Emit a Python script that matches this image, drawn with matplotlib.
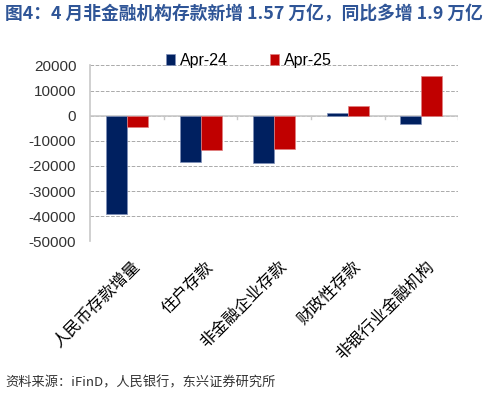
import numpy as np
import matplotlib
matplotlib.use("Agg")
import matplotlib.pyplot as plt

plt.rcParams['font.family'] = ['Liberation Sans', 'Noto Sans CJK SC', 'DejaVu Sans']

categories = ['人民币存款增量', '住户存款', '非金融企业存款', '财政性存款', '非银行业金融机构']
apr24 = [-39300, -18600, -18800, 900, -3300]
apr25 = [-4400, -13700, -13300, 3700, 15700]
yticks = [20000, 10000, 0, -10000, -20000, -30000, -40000, -50000]

title = '图4：4 月非金融机构存款新增 1.57 万亿，同比多增 1.9 万亿'
source = '资料来源：iFinD，人民银行，东兴证券研究所'

fig = plt.figure(figsize=(4.9, 3.99), dpi=100, facecolor='w')
ax = fig.add_axes([0.184, 0.395, 0.751, 0.441])

x = np.arange(len(categories))
w = 0.285
ax.bar(x - w / 2, apr24, w, color='#002060', edgecolor='#8090b8', linewidth=0.5, label='Apr-24', zorder=3)
ax.bar(x + w / 2, apr25, w, color='#C00000', edgecolor='#e08080', linewidth=0.5, label='Apr-25', zorder=3)

ax.set_xlim(-0.5, len(categories) - 0.5)
ax.set_ylim(-50000, 20000)
ax.set_yticks(yticks)
ax.set_yticklabels([str(v) for v in yticks], fontsize=11, color='#333333')
ax.tick_params(axis='y', length=0, pad=10)
ax.grid(axis='y', color='#aaaaaa', linestyle='--', linewidth=0.7, zorder=0)

for s in ['top', 'right', 'bottom']:
    ax.spines[s].set_visible(False)
ax.spines['left'].set_color('#c8c8c8')
ax.spines['left'].set_linewidth(1.2)

# zero line with category ticks
ax.axhline(0, color='#c8c8c8', linewidth=1.2, zorder=2)
for b in np.arange(0.5, len(categories), 1.0):
    ax.plot([b, b], [0, -1300], color='#c8c8c8', linewidth=1.0, zorder=2)

ax.set_xticks(x)
ax.set_xticklabels([])
ax.tick_params(axis='x', length=0)
for i, lab in enumerate(categories):
    ax.annotate(lab, xy=(i, 0), xycoords=('data', 'axes fraction'),
                xytext=(3, -12), textcoords='offset points',
                rotation=45, ha='right', va='top', rotation_mode='anchor',
                fontsize=11.8, family=['Noto Sans CJK SC'])

ax.legend(loc='lower left', bbox_to_anchor=(0.205, 0.985), ncol=2, frameon=False,
          fontsize=11.5, handlelength=0.6, handleheight=0.6, handletextpad=0.3,
          columnspacing=2.6, borderaxespad=0, borderpad=0)

fig.text(0.01, 0.965, title, fontsize=12.8, fontweight='bold', color='#2F5597',
         family=['Noto Sans CJK SC', 'DejaVu Sans'], va='center')
fig.text(0.01, 0.04, source, fontsize=9.5, style='italic', color='#333333',
         family=['Noto Sans CJK SC', 'DejaVu Sans'], va='center')

plt.savefig('out.png', dpi=100)
